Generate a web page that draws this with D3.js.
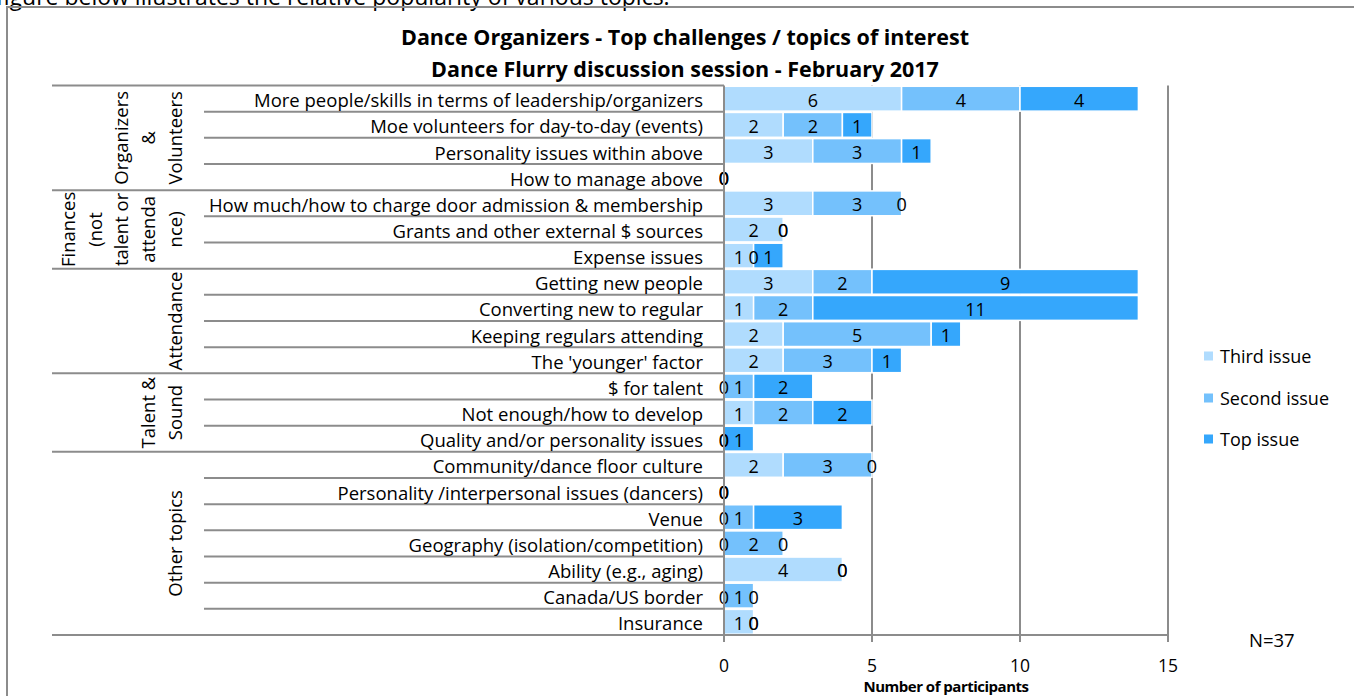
<!DOCTYPE html>
<html>
<head>
<meta charset="utf-8">
<script src="https://cdn.jsdelivr.net/npm/d3@7/dist/d3.min.js"></script>
<style>
  html, body { margin: 0; padding: 0; background: #fff; overflow: hidden; }
  svg { display: block; }
  text { font-family: "Open Sans", Lato, sans-serif; fill: #000; }
</style>
</head>
<body>
<svg id="chart" width="1354" height="696"></svg>
<script>
// ---------------- DATA ----------------
const categories = [
  "More people/skills in terms of leadership/organizers",
  "Moe volunteers for day-to-day (events)",
  "Personality issues within above",
  "How to manage above",
  "How much/how to charge door admission & membership",
  "Grants and other external $ sources",
  "Expense issues",
  "Getting new people",
  "Converting new to regular",
  "Keeping regulars attending",
  "The 'younger' factor",
  "$ for talent",
  "Not enough/how to develop",
  "Quality and/or personality issues",
  "Community/dance floor culture",
  "Personality /interpersonal issues (dancers)",
  "Venue",
  "Geography (isolation/competition)",
  "Ability (e.g., aging)",
  "Canada/US border",
  "Insurance"
];
const thirdIssue  = [6, 2, 3, 0, 3, 2, 1, 3, 1, 2, 2, 0, 1, 0, 2, 0, 0, 0, 4, 0, 1];
const secondIssue = [4, 2, 3, 0, 3, 0, 0, 2, 2, 5, 3, 1, 2, 0, 3, 0, 1, 2, 0, 1, 0];
const topIssue    = [4, 1, 1, 0, 0, 0, 1, 9, 11, 1, 1, 2, 2, 1, 0, 0, 3, 0, 0, 0, 0];
const seriesNames = ["Third issue", "Second issue", "Top issue"];
const groups = [
  { lines: ["Organizers", "&", "Volunteers"], start: 0, count: 4 },
  { lines: ["Finances", "(not", "talent or", "attenda", "nce)"], start: 4, count: 3 },
  { lines: ["Attendance"], start: 7, count: 4 },
  { lines: ["Talent &", "Sound"], start: 11, count: 3 },
  { lines: ["Other topics"], start: 14, count: 7 }
];
const xTicks = [0, 5, 10, 15];
const titleLines = ["Dance Organizers - Top challenges / topics of interest",
                    "Dance Flurry discussion session - February 2017"];
const axisTitle = "Number of participants";
const noteText = "N=37";
const topSentence = "figure below illustrates the relative popularity of various topics.";

// ---------------- LAYOUT ----------------
const colors = ["#B0DCFE", "#74C1FC", "#35A7FC"];
const gridColor = "#8C8C8C";
const svg = d3.select("#chart");

const x = d3.scaleLinear().domain([0, 15]).range([724, 1168]);
const y = d3.scaleBand().domain(categories).range([85.5, 635]).paddingInner(0.05).paddingOuter(0.03);
const rowH = (635 - 85.5) / categories.length;
const rowTop = i => 85.5 + i * rowH;

// top clipped sentence (cut off in the reference as well)
svg.append("text").attr("x", -4).attr("y", 5).style("font-size", "23px").text(topSentence);

// outer frame (left & top visible)
svg.append("path").attr("d", "M7,700 L7,7 L1360,7").attr("fill", "none")
  .attr("stroke", gridColor).attr("stroke-width", 2);

// titles
titleLines.forEach((t, i) => {
  svg.append("text").attr("x", 685).attr("y", 36 + i * 32)
    .attr("text-anchor", "middle").attr("dominant-baseline", "central")
    .style("font-size", "21.5px").style("font-weight", "bold").text(t);
});

// vertical gridlines
svg.append("g").selectAll("line").data(xTicks.slice(1)).join("line")
  .attr("x1", d => x(d)).attr("x2", d => x(d))
  .attr("y1", 85.5).attr("y2", 642)
  .attr("stroke", gridColor).attr("stroke-width", 2);

// stacked data
const rows = categories.map((c, i) => ({ cat: c, vals: [thirdIssue[i], secondIssue[i], topIssue[i]] }));
const segs = [];
rows.forEach(r => {
  let acc = 0;
  r.vals.forEach((v, s) => {
    segs.push({ cat: r.cat, s, v, x0: acc, x1: acc + v });
    acc += v;
  });
});

// bars
svg.append("g").selectAll("rect").data(segs.filter(d => d.v > 0)).join("rect")
  .attr("x", d => x(d.x0)).attr("width", d => x(d.x1) - x(d.x0))
  .attr("y", d => y(d.cat)).attr("height", y.bandwidth())
  .attr("fill", d => colors[d.s]).attr("stroke", "#fff").attr("stroke-width", 1.5);

// data labels
svg.append("g").selectAll("text").data(segs).join("text")
  .attr("x", d => (x(d.x0) + x(d.x1)) / 2)
  .attr("y", d => y(d.cat) + y.bandwidth() / 2 + 1)
  .attr("text-anchor", "middle").attr("dominant-baseline", "central")
  .style("font-size", "18px").text(d => d.v);

// category axis line
svg.append("line").attr("x1", x(0)).attr("x2", x(0)).attr("y1", 85.5).attr("y2", 642)
  .attr("stroke", gridColor).attr("stroke-width", 2);
// x axis line
svg.append("line").attr("x1", 52).attr("x2", x(15)).attr("y1", 635).attr("y2", 635)
  .attr("stroke", gridColor).attr("stroke-width", 2);

// row separators
const groupStarts = new Set(groups.map(g => g.start));
d3.range(0, categories.length).forEach(i => {
  const yy = rowTop(i);
  const isGroup = groupStarts.has(i);
  svg.append("line").attr("x1", isGroup ? 52 : 204).attr("x2", x(0))
    .attr("y1", yy).attr("y2", yy).attr("stroke", gridColor).attr("stroke-width", 2);
});

// category labels
svg.append("g").selectAll("text").data(categories).join("text")
  .attr("x", 703).attr("y", d => y(d) + y.bandwidth() / 2 + 1)
  .attr("text-anchor", "end").attr("dominant-baseline", "central")
  .style("font-size", "18.5px").text(d => d);

// group labels
const colSpacing = 26.6;
groups.forEach(g => {
  const cy = rowTop(g.start) + g.count * rowH / 2;
  const n = g.lines.length;
  g.lines.forEach((ln, k) => {
    const cx = 174 - (n - 1 - k) * colSpacing;
    svg.append("text").attr("transform", `translate(${cx},${cy}) rotate(-90)`)
      .attr("text-anchor", "middle").attr("dominant-baseline", "central")
      .style("font-size", "18.5px").text(ln);
  });
});

// x ticks
svg.append("g").selectAll("line").data(xTicks).join("line")
  .attr("x1", d => x(d)).attr("x2", d => x(d)).attr("y1", 635).attr("y2", 642)
  .attr("stroke", gridColor).attr("stroke-width", 2);
svg.append("g").selectAll("text").data(xTicks).join("text")
  .attr("x", d => x(d)).attr("y", 665).attr("text-anchor", "middle")
  .attr("dominant-baseline", "central").style("font-size", "17.5px").text(d => d);

svg.append("text").attr("x", 946).attr("y", 686).attr("text-anchor", "middle")
  .attr("dominant-baseline", "central").style("font-size", "15px").style("font-weight", "bold")
  .style("letter-spacing", "-0.5px")
  .text(axisTitle);

// N=37
svg.append("text").attr("x", 1249).attr("y", 639).attr("dominant-baseline", "central")
  .style("font-size", "18.5px").text(noteText);

// legend
const legY = [356, 398, 439];
seriesNames.forEach((n, i) => {
  svg.append("rect").attr("x", 1204).attr("y", legY[i] - 4.5).attr("width", 9).attr("height", 9)
    .attr("fill", colors[i]);
  svg.append("text").attr("x", 1220).attr("y", legY[i]).attr("dominant-baseline", "central")
    .style("font-size", "18px").text(n);
});
</script>
</body>
</html>
